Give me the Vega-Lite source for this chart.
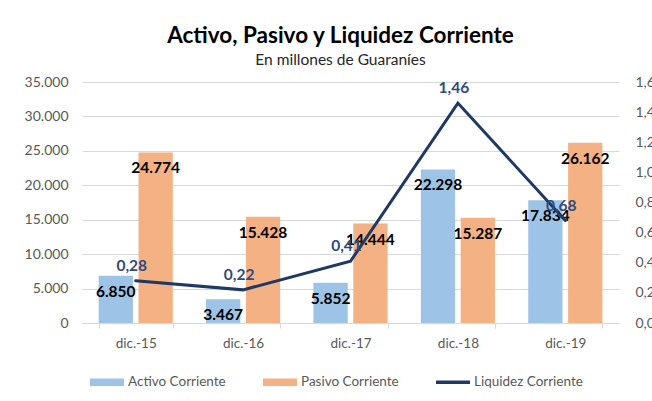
{
  "$schema": "https://vega.github.io/schema/vega-lite/v6.json",
  "width": 537,
  "height": 241,
  "autosize": {"type": "none"},
  "padding": {"left": 82, "top": 82, "right": 33, "bottom": 78},
  "background": "white",
  "title": {
    "text": "Activo, Pasivo y Liquidez Corriente",
    "subtitle": "En millones de Guaraníes",
    "anchor": "middle",
    "dx": -10,
    "offset": 7,
    "font": "Lato",
    "fontSize": 22.5,
    "fontWeight": "bold",
    "color": "#000000",
    "subtitleFont": "Lato",
    "subtitleFontSize": 15.5,
    "subtitleColor": "#262626",
    "subtitlePadding": 5
  },
  "datasets": {
    "barras": [
      {"fecha": "dic.-15", "serie": "Activo Corriente", "valor": 6850},
      {"fecha": "dic.-15", "serie": "Pasivo Corriente", "valor": 24774},
      {"fecha": "dic.-16", "serie": "Activo Corriente", "valor": 3467},
      {"fecha": "dic.-16", "serie": "Pasivo Corriente", "valor": 15428},
      {"fecha": "dic.-17", "serie": "Activo Corriente", "valor": 5852},
      {"fecha": "dic.-17", "serie": "Pasivo Corriente", "valor": 14444},
      {"fecha": "dic.-18", "serie": "Activo Corriente", "valor": 22298},
      {"fecha": "dic.-18", "serie": "Pasivo Corriente", "valor": 15287},
      {"fecha": "dic.-19", "serie": "Activo Corriente", "valor": 17834},
      {"fecha": "dic.-19", "serie": "Pasivo Corriente", "valor": 26162}
    ],
    "liquidez": [
      {"fecha": "dic.-15", "liquidez": 0.28},
      {"fecha": "dic.-16", "liquidez": 0.22},
      {"fecha": "dic.-17", "liquidez": 0.41},
      {"fecha": "dic.-18", "liquidez": 1.46},
      {"fecha": "dic.-19", "liquidez": 0.68}
    ]
  },
  "encoding": {
    "x": {
      "field": "fecha",
      "type": "nominal",
      "sort": null,
      "scale": {"paddingInner": 0.31, "paddingOuter": 0.155},
      "axis": {
        "title": null,
        "labelAngle": 0,
        "tickBand": "extent",
        "domainColor": "#d9d9d9",
        "tickColor": "#d9d9d9",
        "tickSize": 5,
        "labelPadding": 8,
        "labelFontSize": 13.5,
        "grid": false
      }
    }
  },
  "layer": [
    {
      "data": {"name": "barras"},
      "encoding": {
        "xOffset": {
          "field": "serie",
          "type": "nominal",
          "sort": ["Activo Corriente", "Pasivo Corriente"],
          "scale": {"paddingInner": 0.14, "paddingOuter": 0}
        },
        "y": {
          "field": "valor",
          "type": "quantitative",
          "scale": {"domain": [0, 35000], "nice": false},
          "axis": {
            "title": null,
            "values": [0, 5000, 10000, 15000, 20000, 25000, 30000, 35000],
            "format": ",.0f",
            "grid": true,
            "gridColor": "#d9d9d9",
            "domain": false,
            "ticks": false,
            "tickSize": 0,
            "labelPadding": 14
          }
        }
      },
      "layer": [
        {
          "mark": {"type": "bar"},
          "encoding": {
            "color": {
              "field": "serie",
              "type": "nominal",
              "scale": {
                "domain": ["Activo Corriente", "Pasivo Corriente", "Liquidez Corriente"],
                "range": ["#9DC3E6", "#F4B183", "#203864"]
              },
              "legend": {
                "orient": "none",
                "legendX": 8,
                "legendY": 283,
                "direction": "horizontal",
                "title": null,
                "symbolSize": 1156,
                "labelOffset": 4,
                "columnPadding": 37,
                "encode": {
                  "symbols": {
                    "update": {
                      "shape": {"signal": "datum.label === 'Liquidez Corriente' ? 'M-1,-0.1H1V0.1H-1Z' : 'M-1,-0.22H1V0.22H-1Z'"},
                      "fill": {"scale": "color", "field": "value"},
                      "stroke": {"value": "transparent"},
                      "strokeWidth": {"value": 0},
                      "opacity": {"value": 1}
                    }
                  }
                }
              }
            }
          }
        },
        {
          "mark": {
            "type": "text",
            "baseline": "middle",
            "dy": 16,
            "font": "Lato",
            "fontSize": 15.5,
            "fontWeight": "bold",
            "color": "#000000"
          },
          "encoding": {
            "text": {"field": "valor", "type": "quantitative", "format": ",.0f"}
          }
        }
      ]
    },
    {
      "data": {"name": "liquidez"},
      "encoding": {
        "y": {
          "field": "liquidez",
          "type": "quantitative",
          "scale": {"domain": [0, 1.6], "nice": false},
          "axis": {
            "title": null,
            "orient": "right",
            "values": [0, 0.2, 0.4, 0.6, 0.8, 1.0, 1.2, 1.4, 1.6],
            "format": ".1f",
            "grid": false,
            "domain": false,
            "ticks": false,
            "tickSize": 0,
            "labelPadding": 16
          }
        }
      },
      "layer": [
        {
          "mark": {"type": "line", "strokeWidth": 3, "strokeCap": "round", "strokeJoin": "miter"},
          "encoding": {
            "color": {"datum": "Liquidez Corriente", "type": "nominal"}
          }
        },
        {
          "mark": {
            "type": "text",
            "baseline": "middle",
            "dy": -15,
            "dx": -4,
            "font": "Lato",
            "fontSize": 15.5,
            "fontWeight": "bold",
            "color": "#2F4B7C"
          },
          "encoding": {
            "text": {"field": "liquidez", "type": "quantitative", "format": ".2f"}
          }
        }
      ]
    }
  ],
  "resolve": {"scale": {"y": "independent"}},
  "config": {
    "locale": {
      "number": {"decimal": ",", "thousands": ".", "grouping": [3], "currency": ["", ""]}
    },
    "view": {"stroke": null},
    "font": "Lato",
    "axis": {
      "labelFont": "Lato",
      "labelFontSize": 14,
      "labelColor": "#595959"
    },
    "legend": {
      "labelFont": "Lato",
      "labelFontSize": 13.5,
      "labelColor": "#595959"
    }
  }
}
